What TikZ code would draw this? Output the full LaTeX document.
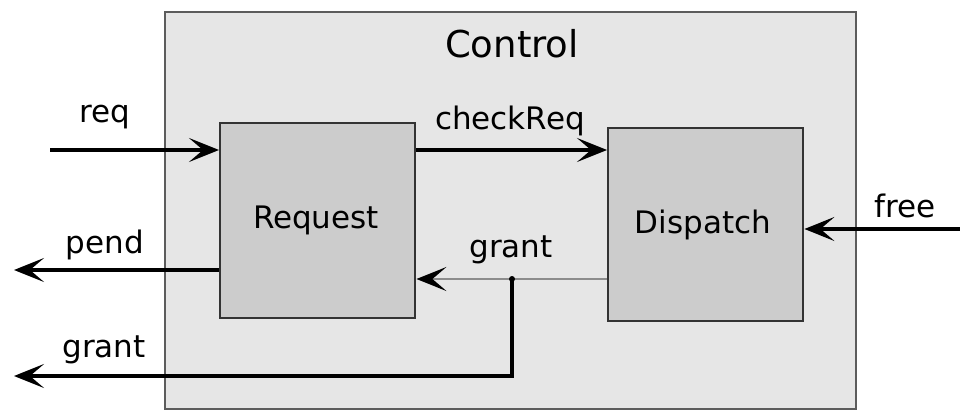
\documentclass[tikz,border=0pt]{standalone}
\usepackage{fontspec}
\setmainfont{DejaVu Sans}
\usetikzlibrary{arrows.meta}
\definecolor{outerfill}{HTML}{E6E6E6}
\definecolor{boxfill}{HTML}{CCCCCC}
\definecolor{edgecol}{HTML}{333333}
\definecolor{thinline}{HTML}{8C8C8C}
\tikzset{
  blockbox/.style={draw=edgecol, line width=2.4pt, fill=boxfill, inner sep=0pt},
  outerbox/.style={draw=edgecol!80, line width=2.2pt, fill=outerfill, inner sep=0pt},
  sig/.style={line width=3.2pt, -{Stealth[length=30pt,width=24pt,inset=14pt,color=black]}},
  lbl/.style={font=\fontsize{31}{36}\selectfont, anchor=base, text=black, inner sep=0pt},
}
\begin{document}
\begin{tikzpicture}[x=1pt,y=-1pt]
\useasboundingbox (0,0) rectangle (960,414);
% outer control box
\node[outerbox, minimum width=691pt, minimum height=397pt, anchor=north west] (ctrl) at (163.5,11) {};
\node[lbl, font=\fontsize{37}{42}\selectfont] (ctrltitle) at (512,58) {Control};
% blocks
\node[blockbox, minimum width=195pt, minimum height=195pt, anchor=north west] (request) at (219,122) {};
\node[blockbox, minimum width=195pt, minimum height=193pt, anchor=north west] (dispatch) at (607,127) {};
\node[lbl] (requestlbl) at (316,228) {Request};
\node[lbl] (dispatchlbl) at (703,233) {Dispatch};
% coordinates
\coordinate (reqin) at (50,150);
\coordinate (pendout) at (14,270);
\coordinate (grantout) at (14,376);
\coordinate (grantcorner) at (512,376);
\coordinate (junction) at (512,279);
\coordinate (freein) at (960,229);
% connectors
\draw[sig] (reqin) -- (reqin -| request.west);
\draw[sig] (request.east |- reqin) -- (dispatch.west |- reqin);
\draw[sig] (request.west |- pendout) -- (pendout);
\draw[sig] (freein) -- (dispatch.east |- freein);
\draw[thinline, line width=2pt] (dispatch.west |- junction) -- (junction);
\draw[sig, line width=2pt, draw=thinline] (junction) -- (request.east |- junction);
\draw[sig] (junction) -- (grantcorner) -- (grantout);
\fill[black] (junction) circle (3pt);
% labels
\node[lbl] (reqlbl) at (105,123) {req};
\node[lbl] (checkreqlbl) at (510,130) {checkReq};
\node[lbl] (pendlbl) at (105,253) {pend};
\node[lbl] (grantinlbl) at (511,257) {grant};
\node[lbl] (grantoutlbl) at (104,357) {grant};
\node[lbl] (freelbl) at (905,217) {free};
\end{tikzpicture}
\end{document}
